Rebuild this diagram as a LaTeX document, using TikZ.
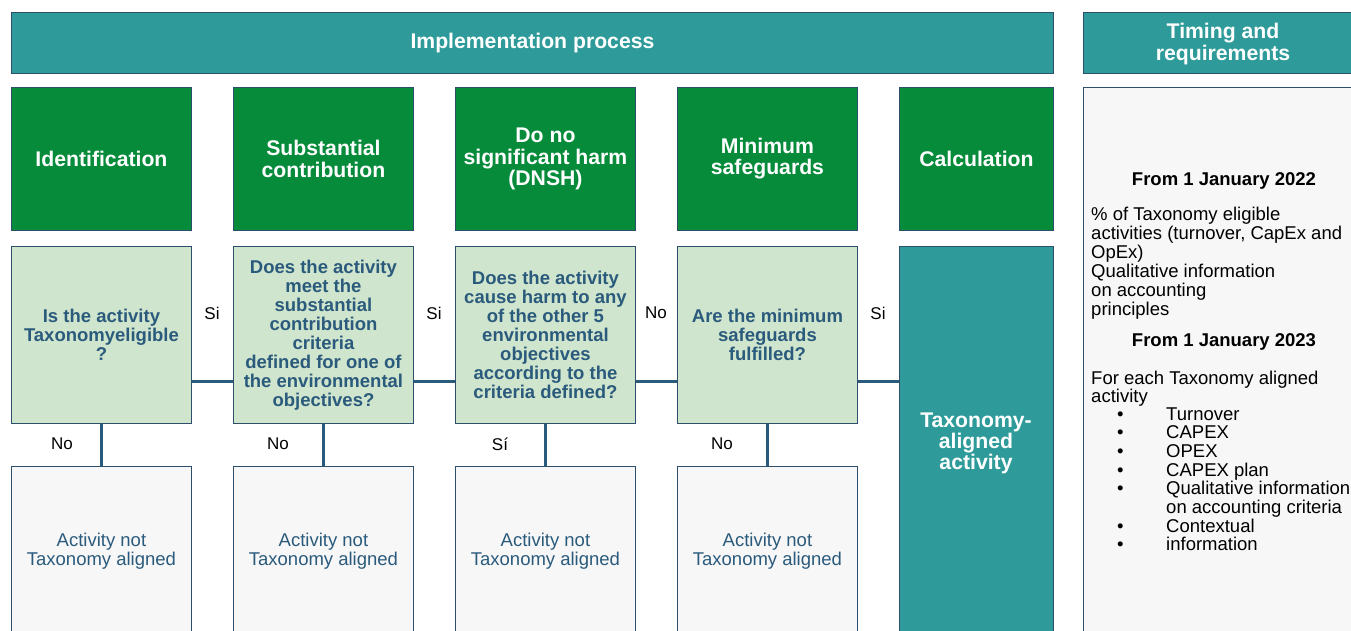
\documentclass[tikz,border=0pt]{standalone}
\usepackage{fontspec}
\setmainfont{Liberation Sans}
\definecolor{teal1}{HTML}{2E9B9A}
\definecolor{green1}{HTML}{068B3A}
\definecolor{lgreen}{HTML}{D0E5CD}
\definecolor{lgray}{HTML}{F7F7F7}
\definecolor{dblue}{HTML}{2A5A7C}
\definecolor{bord}{HTML}{2D4F6C}
\tikzset{
  box/.style={draw=bord, line width=0.9pt, anchor=north west, inner sep=2pt, align=center},
  tealbox/.style={box, fill=teal1, text=white, font=\fontsize{21.2}{21.5}\selectfont\bfseries},
  greenbox/.style={box, fill=green1, text=white, font=\fontsize{21.2}{21.2}\selectfont\bfseries, minimum width=180pt, minimum height=143pt},
  qbox/.style={box, fill=lgreen, text=dblue, font=\fontsize{18.5}{19}\selectfont\bfseries, minimum width=180pt, minimum height=177pt},
  nbox/.style={box, fill=lgray, text=dblue, font=\fontsize{18.5}{19}\selectfont, minimum width=180pt, minimum height=170pt},
  lbl/.style={font=\fontsize{17}{17}\selectfont, text=black, inner sep=0},
  rtxt/.style={font=\fontsize{18.5}{18.75}\selectfont, text=black, inner sep=0, anchor=base west},
  rhead/.style={font=\fontsize{18.5}{18.75}\selectfont\bfseries, text=black, inner sep=0},
  conn/.style={draw=dblue, line width=2.5pt}
}
\begin{document}
\begin{tikzpicture}[x=1pt,y=-1pt]
\useasboundingbox (0,0) rectangle (1351,630);
\clip (0,0) rectangle (1351,630);
% headers
\node[tealbox, minimum width=1042pt, minimum height=61pt] (hdr) at (11,12) {Implementation process};
\node[tealbox, minimum width=280pt, minimum height=61pt] (thdr) at (1083,12) {};
\node[text=white, font=\fontsize{21.2}{21.5}\selectfont\bfseries, align=center, inner sep=0] (thtxt) at (1223,44) {Timing and\\requirements};
% green titles
\node[greenbox] (g1) at (11,87) {Identification};
\node[greenbox] (g2) at (233,87) {Substantial\\contribution};
\node[greenbox] (g3) at (455,87) {Do no\\significant harm\\(DNSH)};
\node[greenbox] (g4) at (677,87) {Minimum\\safeguards};
\node[greenbox, minimum width=154pt] (g5) at (899,87) {Calculation};
% questions
\node[qbox] (q1) at (11,246) {Is the activity\\Taxonomyeligible\\?};
\node[qbox] (q2) at (233,246) {Does the activity\\meet the\\substantial\\contribution\\criteria\\defined for one of\\the environmental\\objectives?};
\node[qbox] (q3) at (455,246) {Does the activity\\cause harm to any\\of the other 5\\environmental\\objectives\\according to the\\criteria defined?};
\node[qbox] (q4) at (677,246) {Are the minimum\\safeguards\\fulfilled?};
\node[box, fill=teal1, minimum width=154pt, minimum height=390pt] (tax) at (899,246) {};
\node[text=white, font=\fontsize{21.2}{21}\selectfont\bfseries, align=center, inner sep=0] (taxt) at (976,443) {Taxonomy-\\aligned\\activity};
% not aligned
\node[nbox] (n1) at (11,466) {Activity not\\Taxonomy aligned};
\node[nbox] (n2) at (233,466) {Activity not\\Taxonomy aligned};
\node[nbox] (n3) at (455,466) {Activity not\\Taxonomy aligned};
\node[nbox] (n4) at (677,466) {Activity not\\Taxonomy aligned};
% connectors
\foreach \a/\b in {q1/q2,q2/q3,q3/q4}{
  \draw[conn] ([yshift=-46.5pt]\a.east) -- ([yshift=-46.5pt]\b.west);
}
\coordinate (c4) at ([yshift=-46.5pt]q4.east);
\draw[conn] (c4) -- (c4 -| tax.west);
\foreach \i in {1,2,3,4}{
  \draw[conn] (q\i.south) -- (n\i.north);
}
% labels
\node[lbl] (s1) at (212,313) {Si};
\node[lbl] (s2) at (434,313) {Si};
\node[lbl] (s3) at (656,313) {No};
\node[lbl] (s4) at (878,313) {Si};
\node[lbl] (d1) at (62,444) {No};
\node[lbl] (d2) at (278,444) {No};
\node[lbl] (d3) at (500,444) {Sí};
\node[lbl] (d4) at (722,444) {No};
% right panel
\node[box, fill=lgray, minimum width=280pt, minimum height=549pt] (panel) at (1083,87) {};
\node[rhead] (f1) at (1224,181) {From 1 January 2022};
\node[rtxt] (a1) at (1091,220) {\% of Taxonomy eligible};
\node[rtxt] (a2) at (1091,239) {activities (turnover, CapEx and};
\node[rtxt] (a3) at (1091,258) {OpEx)};
\node[rtxt] (a4) at (1091,277) {Qualitative information};
\node[rtxt] (a5) at (1091,296) {on accounting};
\node[rtxt] (a6) at (1091,315) {principles};
\node[rhead] (f2) at (1224,342) {From 1 January 2023};
\node[rtxt] (b1) at (1091,384) {For each Taxonomy aligned};
\node[rtxt] (b2) at (1091,402) {activity};
\foreach \t/\bul [count=\i] in {Turnover/1, CAPEX/1, OPEX/1, CAPEX plan/1, Qualitative information/1, on accounting criteria/0, Contextual/1, information/1}{
  \node[rtxt] (li\i) at (1166,{420+(\i-1)*18.7}) {\t};
  \ifnum\bul=1
    \node[rtxt] (bu\i) at (1117,{420+(\i-1)*18.7}) {\textbullet};
  \fi
}
\end{tikzpicture}
\end{document}
